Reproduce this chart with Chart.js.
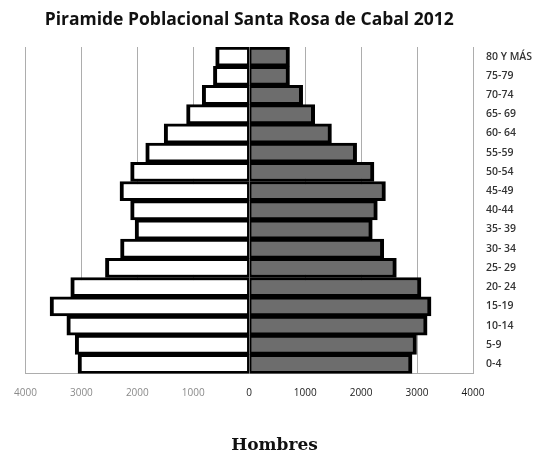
<!DOCTYPE html>
<html>
<head>
<meta charset="utf-8">
<script src="https://cdn.jsdelivr.net/npm/chart.js@4.4.0/dist/chart.umd.min.js"></script>
<style>
html,body{margin:0;padding:0;background:#fff;}
#wrap{width:538px;height:454px;position:relative;}
</style>
</head>
<body>
<div id="wrap"><canvas id="c" width="538" height="454"></canvas></div>
<script>
const categories = ["80 Y MÁS","75-79","70-74","65- 69","60- 64","55-59","50-54","45-49","40-44","35- 39","30- 34","25- 29","20- 24","15-19","10-14","5-9","0-4"];
const hombres = [600, 640, 840, 1120, 1520, 1850, 2120, 2310, 2120, 2040, 2300, 2570, 3190, 3560, 3260, 3110, 3060];
const mujeres = [720, 720, 955, 1170, 1470, 1920, 2230, 2435, 2290, 2200, 2405, 2630, 3070, 3250, 3180, 2990, 2910];
const xTicks = [-4000,-3000,-2000,-1000,0,1000,2000,3000,4000];

new Chart(document.getElementById('c'), {
  type: 'bar',
  data: {
    labels: categories,
    datasets: [
      {
        label: 'Hombres',
        data: hombres.map(v => -v),
        backgroundColor: '#ffffff',
        borderColor: '#000000',
        borderWidth: {top: 3, bottom: 3, left: 4, right: 2},
        borderSkipped: false,
        barPercentage: 1,
        categoryPercentage: 1,
        grouped: false,
        xAxisID: 'x'
      },
      {
        label: 'Mujeres',
        data: mujeres,
        backgroundColor: '#6d6d6d',
        borderColor: '#000000',
        borderWidth: {top: 3, bottom: 3, left: 2, right: 4},
        borderSkipped: false,
        barPercentage: 1,
        categoryPercentage: 1,
        grouped: false,
        xAxisID: 'x'
      }
    ]
  },
  options: {
    indexAxis: 'y',
    responsive: false,
    animation: false,
    layout: {padding: {left: 11, right: 0, top: 10, bottom: 0}},
    plugins: {
      legend: {display: false},
      tooltip: {enabled: false},
      title: {
        display: true,
        position: 'bottom',
        text: 'Hombres',
        font: {family: 'DejaVu Serif', size: 17, weight: 'bold', lineHeight: 1.0},
        color: '#111',
        padding: {top: 23.4, bottom: 0}
      }
    },
    scales: {
      x: {
        type: 'linear',
        position: 'bottom',
        min: -4000,
        max: 4000,
        afterBuildTicks: (s) => { s.ticks = xTicks.map(v => ({value: v})); },
        ticks: {
          callback: (v) => String(Math.abs(v)),
          font: {family: 'Open Sans', size: 10},
          color: (ctx) => (ctx.tick && ctx.tick.value < 0) ? '#8a8a8a' : '#1a1a1a',
          padding: 14,
          maxRotation: 0
        },
        grid: {color: '#adadad', lineWidth: 1, drawTicks: false},
        border: {display: true, color: '#adadad', width: 1}
      },
      x2: {
        type: 'linear',
        position: 'top',
        min: -4000,
        max: 4000,
        ticks: {display: false},
        grid: {display: false, drawTicks: false},
        border: {display: false},
        title: {
          display: true,
          text: 'Piramide Poblacional Santa Rosa de Cabal 2012',
          font: {family: 'Open Sans', size: 17.5, weight: 'bold'},
          color: '#111',
          padding: {top: 0, bottom: 16}
        }
      },
      y: {
        position: 'right',
        afterFit: (s) => { s.width = 65; },
        ticks: {
          font: {family: 'Open Sans', size: 10.5, weight: '600'},
          color: '#333',
          padding: 13,
          crossAlign: 'near'
        },
        grid: {display: false, drawTicks: false},
        border: {display: false}
      }
    }
  }
});
</script>
</body>
</html>
